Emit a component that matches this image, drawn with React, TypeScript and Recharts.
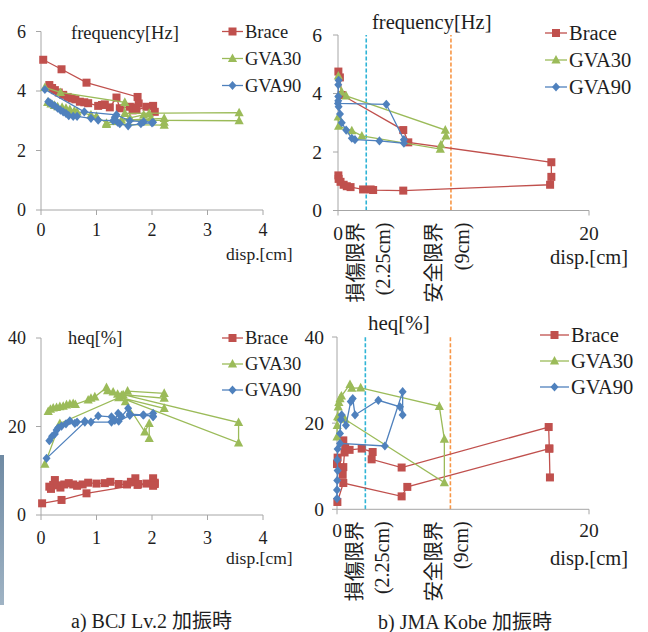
import React from "react";
import { ScatterChart, Scatter, XAxis, YAxis, ReferenceLine } from "recharts";

const RED = "#c0504d";
const GREEN = "#9bbb59";
const BLUE = "#4f81bd";
const AXIS = "#a6a6a6";
const INK = "#1e1e1e";
const SERIF = "Liberation Serif, DejaVu Serif, Times New Roman, serif";
const CJK = "Noto Sans CJK JP, sans-serif";

// ---- a) BCJ Lv.2, frequency [Hz] vs disp [cm]
const bcjFreqBraceA = [[0.04, 5.05], [0.37, 4.73], [0.82, 4.28], [1.74, 3.8], [1.76, 3.58], [1.68, 3.45]];
const bcjFreqBraceB = [[0.15, 4.2], [0.2, 4.1], [0.25, 4.03], [0.32, 3.95], [0.4, 3.87], [0.48, 3.8], [0.55, 3.75], [0.62, 3.72], [0.7, 3.64], [0.78, 3.62], [0.85, 3.59], [1.03, 3.5], [1.1, 3.53], [1.15, 3.55], [1.24, 3.45], [1.36, 3.78], [1.42, 3.42], [1.6, 3.47], [1.65, 3.35], [1.72, 3.36], [1.9, 3.47], [2.02, 3.5], [2.05, 3.3]];
const bcjFreqGva30A = [[0.07, 4.12], [0.35, 3.95], [1.51, 3.62], [1.51, 3.25], [3.57, 3.27], [3.57, 3.0], [1.45, 3.02], [2.22, 3.08], [2.22, 2.95], [2.22, 2.85], [1.18, 2.88]];
const bcjFreqGva30B = [[0.12, 3.62], [0.18, 3.57], [0.24, 3.52], [0.3, 3.47], [0.38, 3.45], [0.45, 3.42], [0.52, 3.38], [0.6, 3.33], [0.65, 3.3], [0.9, 3.2], [1.0, 3.15], [1.18, 2.92], [1.36, 2.98], [1.6, 3.1], [1.85, 3.2], [1.95, 3.25], [1.98, 3.1]];
const bcjFreqGva90A = [[0.07, 4.05], [0.78, 3.3], [1.36, 3.2], [1.6, 3.0], [1.85, 2.97], [2.02, 2.95]];
const bcjFreqGva90B = [[0.13, 3.64], [0.16, 3.6], [0.2, 3.55], [0.25, 3.5], [0.3, 3.42], [0.35, 3.36], [0.4, 3.3], [0.45, 3.25], [0.5, 3.17], [0.58, 3.15], [0.65, 3.15], [0.9, 3.08], [1.03, 3.02], [1.3, 3.0], [1.33, 3.12], [1.38, 2.95], [1.42, 2.9], [1.57, 2.83], [1.8, 2.9], [2.0, 2.93]];

// ---- b) JMA Kobe, frequency [Hz]
const kobeFreqBrace = [[0.03, 4.75], [0.15, 4.55], [0.3, 3.95], [5.2, 2.75], [5.6, 2.33], [17.0, 1.65], [17.0, 1.15], [16.9, 0.88], [5.2, 0.68], [2.8, 0.7], [2.6, 0.72], [2.0, 0.72], [1.0, 0.8], [0.7, 0.83], [0.45, 0.88], [0.2, 0.98], [0.05, 1.08], [0.03, 1.2]];
const kobeFreqGva30 = [[0.03, 4.6], [0.3, 4.05], [0.65, 3.92], [8.55, 2.75], [8.6, 2.55], [8.2, 2.25], [8.15, 2.1], [1.9, 2.55], [1.1, 2.73], [0.05, 2.88], [0.02, 3.2]];
const kobeFreqGva90 = [[0.05, 4.45], [0.02, 4.3], [0.02, 3.9], [0.0, 3.66], [3.85, 3.63], [5.25, 2.42], [5.25, 2.3], [3.3, 2.38], [1.35, 2.42], [1.1, 2.47], [0.65, 2.75], [0.3, 3.0], [0.16, 3.3], [0.05, 3.55], [0.02, 3.75]];

// ---- a) BCJ Lv.2, heq [%]
const bcjHeqBraceA = [[0.02, 2.64], [0.37, 3.4], [0.82, 4.9], [1.74, 6.8], [2.05, 7.0]];
const bcjHeqBraceB = [[0.15, 6.4], [0.18, 5.9], [0.22, 6.8], [0.25, 7.9], [0.3, 6.7], [0.35, 6.2], [0.42, 6.9], [0.5, 7.2], [0.58, 6.9], [0.65, 6.6], [0.75, 6.9], [0.85, 7.3], [1.0, 7.1], [1.15, 7.2], [1.25, 7.5], [1.4, 7.0], [1.55, 6.9], [1.62, 7.5], [1.7, 8.3], [1.75, 7.0], [1.9, 7.1], [2.02, 8.3], [2.05, 7.3], [2.02, 6.6]];
const bcjHeqGva30A = [[0.13, 23.4], [0.17, 23.9], [0.22, 24.2], [0.28, 24.3], [0.34, 24.5], [0.4, 24.6], [0.46, 24.9], [0.52, 25.1], [0.58, 25.2], [0.62, 25.0], [0.85, 26.0], [0.9, 26.4], [0.97, 26.7], [1.18, 28.8], [1.2, 28.1], [1.3, 27.8], [1.38, 27.3], [1.45, 27.0], [1.56, 28.0], [2.22, 27.5], [2.22, 26.4], [1.48, 27.2], [3.56, 20.9], [3.56, 16.3], [1.42, 26.6], [2.22, 24.1]];
const bcjHeqGva30B = [[0.07, 11.5], [0.34, 20.7], [1.4, 26.5], [1.52, 25.6], [1.87, 18.8], [1.95, 20.7], [1.95, 17.3]];
const bcjHeqGva90A = [[0.1, 12.8], [0.79, 21.0], [1.27, 21.0], [1.4, 21.2], [1.6, 22.5], [1.85, 22.6], [2.02, 22.3]];
const bcjHeqGva90B = [[0.15, 16.8], [0.2, 17.8], [0.25, 18.3], [0.28, 19.2], [0.31, 19.7], [0.37, 20.1], [0.45, 20.6], [0.52, 21.3], [0.61, 20.7], [0.65, 21.0], [0.79, 21.2], [0.9, 21.0], [1.03, 22.4], [1.27, 22.2], [1.33, 21.4], [1.39, 23.0], [1.45, 22.2], [1.57, 24.1], [1.6, 22.8], [1.84, 22.6], [2.02, 23.0], [2.02, 22.2]];

// ---- b) JMA Kobe, heq [%]
const kobeHeqBraceA = [[0.03, 1.7], [0.5, 6.1], [5.13, 3.0], [5.58, 5.2], [16.85, 14.1]];
const kobeHeqBraceB = [[0.0, 10.5], [0.05, 12.0], [0.45, 8.0], [0.5, 9.8], [0.6, 13.2], [0.5, 16.0], [0.65, 14.3], [1.0, 13.8], [1.96, 14.1], [2.83, 13.3], [2.75, 11.6], [5.13, 9.7], [16.8, 19.1], [16.85, 14.1], [16.9, 7.4]];
const kobeHeqGva30 = [[0.0, 16.8], [0.02, 19.5], [0.05, 21.5], [0.1, 23.8], [0.15, 24.8], [0.24, 25.7], [0.35, 26.3], [1.03, 29.0], [1.17, 28.1], [1.88, 28.2], [8.12, 23.9], [8.52, 16.3], [8.52, 6.2], [0.63, 20.9], [0.15, 21.3]];
const kobeHeqGva90 = [[0.0, 2.5], [0.0, 4.5], [0.02, 6.7], [0.05, 9.0], [0.02, 11.5], [0.05, 14.0], [0.24, 15.3], [3.8, 14.7], [5.21, 27.3], [5.21, 21.9], [5.0, 23.8], [3.28, 25.3], [1.43, 21.9], [1.25, 25.7], [1.09, 25.0], [0.71, 19.5], [0.37, 21.9], [0.3, 20.8], [0.24, 17.6]];

const seriesNames = ["Brace", "GVA30", "GVA90"] as const;
const bcjTicks = [0, 1, 2, 3, 4];
const kobeTicks = [0, 20];
const freqTicks = [0, 2, 4, 6];
const heqTicks = [0, 20, 40];
const damageLimit = 2.25;
const safetyLimit = 9;

type Name = (typeof seriesNames)[number];
const STYLE: Record<Name, { color: string; kind: string }> = {
  Brace: { color: RED, kind: "square" },
  GVA30: { color: GREEN, kind: "triangle" },
  GVA90: { color: BLUE, kind: "diamond" },
};

const toPts = (a: number[][]) => a.map(([x, y]) => ({ x, y }));

const Marker = ({ kind, cx, cy, color }: any) => {
  if (kind === "square") return <rect x={cx - 4} y={cy - 4} width={8} height={8} fill={color} />;
  if (kind === "triangle")
    return <polygon points={`${cx},${cy - 5} ${cx + 4.6},${cy + 3.6} ${cx - 4.6},${cy + 3.6}`} fill={color} />;
  return <polygon points={`${cx},${cy - 4.6} ${cx + 4},${cy} ${cx},${cy + 4.6} ${cx - 4},${cy}`} fill={color} />;
};

const limitLabel = (main: string, sub: string, dMain: number, dSub: number, fs: number) => (props: any) => {
  const vb = props.viewBox || {};
  const x = vb.x;
  const y0 = vb.y + vb.height + 12;
  return (
    <g>
      <text transform={`translate(${x + dMain},${y0}) rotate(-90)`} textAnchor="end" dominantBaseline="central" fontSize={fs} style={{ fontFamily: CJK }} fill={INK}>
        {main}
      </text>
      <text transform={`translate(${x + dSub},${y0}) rotate(-90)`} textAnchor="end" dominantBaseline="central" fontSize={fs} style={{ fontFamily: SERIF }} fill={INK}>
        {sub}
      </text>
    </g>
  );
};

type Line = { name: Name; data: number[][] };

const Panel = (p: any) => {
  const lines: Line[] = p.lines;
  const tick = { fill: INK, fontSize: p.fs, style: { fontFamily: SERIF } };
  return (
    <div style={{ position: "absolute", left: p.left, top: p.top, fontFamily: SERIF }}>
      <ScatterChart width={p.width} height={p.height} margin={p.margin} style={{ fontFamily: SERIF }}>
        <XAxis
          type="number"
          dataKey="x"
          domain={p.xDomain}
          ticks={p.xTicks}
          interval={0}
          height={p.xAxisH}
          stroke={AXIS}
          tickSize={5}
          tickMargin={p.xTickMargin}
          tick={tick}
        />
        <YAxis
          type="number"
          dataKey="y"
          domain={p.yDomain}
          ticks={p.yTicks}
          interval={0}
          width={p.yAxisW}
          stroke={AXIS}
          tickSize={5}
          tickMargin={p.yTickMargin}
          tick={tick}
        />
        {lines.map((l, i) => {
          const s = STYLE[l.name];
          return (
            <Scatter
              key={i}
              name={l.name}
              data={toPts(l.data)}
              fill={s.color}
              line={{ stroke: s.color, strokeWidth: 1.3 }}
              shape={(sp: any) => <Marker kind={s.kind} cx={sp.cx} cy={sp.cy} color={s.color} />}
              isAnimationActive={false}
            />
          );
        })}
        {p.limits && (
          <ReferenceLine
            x={damageLimit}
            stroke="#2fb4d6"
            strokeWidth={1.6}
            strokeDasharray="4 2"
            label={limitLabel("損傷限界", "(2.25cm)", -12, 17, 20)}
          />
        )}
        {p.limits && (
          <ReferenceLine
            x={safetyLimit}
            stroke="#f79646"
            strokeWidth={1.6}
            strokeDasharray="4 2"
            label={limitLabel("安全限界", "(9cm)", -18, 11, 20)}
          />
        )}
      </ScatterChart>
    </div>
  );
};

const LegendBlock = ({ x, y, gap, lineW, fs }: any) => (
  <g transform={`translate(${x},${y})`}>
    {seriesNames.map((n, i) => {
      const s = STYLE[n];
      const cy = i * gap;
      return (
        <g key={n}>
          <line x1={0} x2={lineW} y1={cy} y2={cy} stroke={s.color} strokeWidth={1.3} />
          <Marker kind={s.kind} cx={lineW / 2} cy={cy} color={s.color} />
          <text x={lineW + 2} y={cy} dominantBaseline="central" fontSize={fs} style={{ fontFamily: SERIF }} fill={INK}>
            {n}
          </text>
        </g>
      );
    })}
  </g>
);

const T = ({ x, y, fs, children }: any) => (
  <text x={x} y={y} dominantBaseline="central" fontSize={fs} style={{ fontFamily: `${SERIF}, ${CJK}` }} fill={INK}>
    {children}
  </text>
);

export default function App() {
  return (
    <div style={{ position: "absolute", left: 0, top: 0, width: 648, height: 632, background: "#fff", overflow: "hidden", fontFamily: SERIF }}>
      <div style={{ position: "absolute", left: 0, top: 455, width: 4, height: 150, background: "linear-gradient(#6f8aa3, #9fb3c4)" }} />
      <Panel
        left={0} top={0} width={300} height={250}
        margin={{ top: 31.5, right: 37, bottom: 10, left: 0 }}
        yAxisW={41} xAxisH={30} fs={18} xTickMargin={8} yTickMargin={10}
        xDomain={[0, 4]} xTicks={bcjTicks} yDomain={[0, 6]} yTicks={freqTicks}
        lines={[
          { name: "Brace", data: bcjFreqBraceA },
          { name: "Brace", data: bcjFreqBraceB },
          { name: "GVA30", data: bcjFreqGva30A },
          { name: "GVA30", data: bcjFreqGva30B },
          { name: "GVA90", data: bcjFreqGva90A },
          { name: "GVA90", data: bcjFreqGva90B },
        ]}
      />
      <Panel
        left={298} top={0} width={310} height={320}
        margin={{ top: 35, right: 19, bottom: 69.5, left: 0 }}
        yAxisW={40} xAxisH={40} fs={19.5} xTickMargin={11} yTickMargin={11}
        xDomain={[0, 20]} xTicks={kobeTicks} yDomain={[0, 6]} yTicks={freqTicks} limits
        lines={[
          { name: "Brace", data: kobeFreqBrace },
          { name: "GVA30", data: kobeFreqGva30 },
          { name: "GVA90", data: kobeFreqGva90 },
        ]}
      />
      <Panel
        left={0} top={300} width={300} height={250}
        margin={{ top: 38, right: 37, bottom: 5, left: 0 }}
        yAxisW={41} xAxisH={30} fs={18} xTickMargin={11} yTickMargin={10}
        xDomain={[0, 4]} xTicks={bcjTicks} yDomain={[0, 40]} yTicks={heqTicks}
        lines={[
          { name: "Brace", data: bcjHeqBraceA },
          { name: "Brace", data: bcjHeqBraceB },
          { name: "GVA30", data: bcjHeqGva30A },
          { name: "GVA30", data: bcjHeqGva30B },
          { name: "GVA90", data: bcjHeqGva90A },
          { name: "GVA90", data: bcjHeqGva90B },
        ]}
      />
      <Panel
        left={297} top={300} width={310} height={320}
        margin={{ top: 37, right: 18, bottom: 70.7, left: 0 }}
        yAxisW={40} xAxisH={40} fs={19.5} xTickMargin={9} yTickMargin={8}
        xDomain={[0, 20]} xTicks={kobeTicks} yDomain={[0, 40]} yTicks={heqTicks} limits
        lines={[
          { name: "Brace", data: kobeHeqBraceA },
          { name: "Brace", data: kobeHeqBraceB },
          { name: "GVA30", data: kobeHeqGva30 },
          { name: "GVA90", data: kobeHeqGva90 },
        ]}
      />
      <svg width={648} height={632} style={{ position: "absolute", left: 0, top: 0, pointerEvents: "none" }}>
        <T x={71} y={33} fs={18.5}>frequency[Hz]</T>
        <T x={372} y={22} fs={20.5}>frequency[Hz]</T>
        <T x={68} y={338} fs={18.5}>heq[%]</T>
        <T x={368} y={323} fs={21}>heq[%]</T>
        <T x={226} y={254} fs={17.5}>disp.[cm]</T>
        <T x={226} y={558} fs={17.5}>disp.[cm]</T>
        <T x={550} y={257} fs={20.5}>disp.[cm]</T>
        <T x={550} y={558} fs={20.5}>disp.[cm]</T>
        <T x={71} y={621} fs={20}>a) BCJ Lv.2 加振時</T>
        <T x={378} y={622} fs={20}>b) JMA Kobe 加振時</T>
        <LegendBlock x={222} y={31.5} gap={27} lineW={21} fs={18.5} />
        <LegendBlock x={545} y={33} gap={27} lineW={22} fs={20.5} />
        <LegendBlock x={222} y={338} gap={26} lineW={21} fs={18.5} />
        <LegendBlock x={540} y={335} gap={26} lineW={29} fs={20.5} />
      </svg>
    </div>
  );
}
